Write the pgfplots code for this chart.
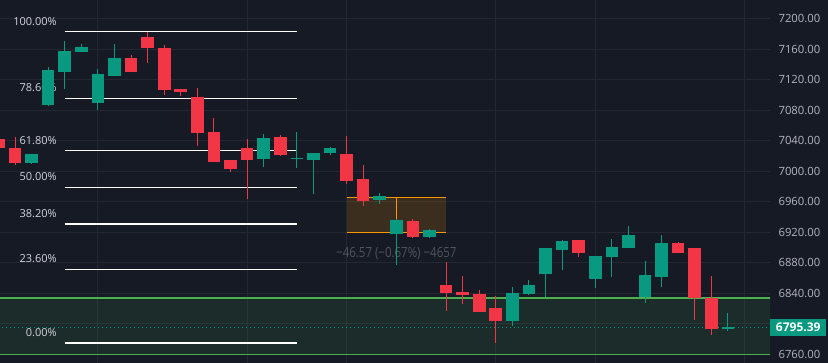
\documentclass[border=0pt]{standalone}
\usepackage{pgfplots}
\pgfplotsset{compat=1.18}
\usepackage{pgfplotstable}
\usepackage{fontspec}
\setmainfont{Open Sans}
\definecolor{bg}{HTML}{161A25}
\definecolor{gridc}{HTML}{232733}
\definecolor{upc}{HTML}{089981}
\definecolor{dnc}{HTML}{F23645}
\definecolor{zoneg}{HTML}{4CAF50}
\definecolor{orng}{HTML}{FF9800}
\definecolor{labc}{HTML}{B2B5BE}
\definecolor{fibt}{HTML}{D1D4DC}
\definecolor{meas}{HTML}{50535E}

\pgfplotstableread{
k o h l c
2 7011.3 7023.3 7009.6 7022.7
3 7086.9 7136.8 7085.6 7132.9
4 7130.2 7171.3 7108.3 7157.8
5 7156.5 7167.0 7156.5 7163.0
6 7090.0 7134.6 7080.4 7127.6
7 7125.0 7167.0 7125.0 7148.6
16 7016.1 7048.9 7005.6 7043.7
18 7016.6 7051.5 7004.3 7018.0
19 7014.8 7024.0 6970.2 7024.0
20 7024.0 7031.9 7021.4 7030.6
23 6962.4 6971.5 6957.1 6967.6
24 6917.8 6937.4 6877.1 6936.1
26 6913.8 6924.3 6912.5 6923.0
31 6803.7 6848.3 6797.1 6840.4
32 6839.1 6857.4 6837.8 6850.9
33 6865.3 6899.4 6835.1 6899.4
34 6896.8 6909.9 6870.5 6908.6
36 6858.8 6888.9 6846.9 6888.9
37 6887.6 6911.2 6861.4 6900.7
38 6899.4 6928.3 6899.4 6916.5
39 6835.1 6882.4 6827.3 6864.0
40 6861.4 6916.5 6848.3 6906.0
44 6793.2 6814.2 6790.6 6795.39
}\uptable

\pgfplotstableread{
k o h l c
0 7042.4 7045.0 7028.0 7030.2
1 7030.6 7045.0 7008.3 7011.3
8 7148.6 7152.5 7130.2 7130.2
9 7176.1 7183.1 7142.4 7161.7
10 7161.7 7165.6 7100.1 7106.6
11 7107.9 7107.9 7098.8 7104.0
12 7097.4 7109.2 7033.2 7050.2
13 7051.5 7069.9 7012.2 7012.2
14 7014.8 7014.8 6999.1 7003.0
15 7030.6 7042.4 6963.7 7014.8
17 7045.0 7047.6 7020.1 7021.4
21 7022.7 7046.3 6983.3 6987.3
22 6989.9 7008.3 6954.5 6961.0
25 6934.8 6937.4 6912.5 6913.8
27 6850.9 6881.0 6816.8 6840.4
28 6841.7 6862.7 6826.0 6837.8
29 6839.1 6844.3 6815.5 6815.5
30 6820.7 6836.5 6774.8 6803.7
35 6909.9 6909.9 6887.6 6892.8
41 6906.0 6907.3 6892.8 6892.8
42 6899.4 6899.4 6805.0 6833.8
43 6833.8 6862.7 6785.3 6793.2
}\dntable

\begin{document}
\begin{tikzpicture}
\fill[bg] (0,0) rectangle (828pt,363pt);
\begin{axis}[
  at={(0,0)}, anchor=south west,
  scale only axis, width=770pt, height=363pt,
  xmin=0.095, xmax=46.54, ymin=6748.6, ymax=7224.7,
  axis line style={draw=none},
  xtick={6,15,21,30,36,45}, xticklabels={},
  ytick={6760,6840,6880,...,7200},
  extra y ticks={6800}, extra y tick labels={},
  extra y tick style={grid=major},
  grid=major,
  major grid style={draw=gridc, line width=1pt},
  tick style={draw=none},
  yticklabel pos=right,
  yticklabel style={anchor=west, xshift=5pt, text=labc, font=\fontsize{11.3}{13}\selectfont},
  /pgf/number format/assume math mode=true,
  y tick label style={/pgf/number format/.cd, fixed, fixed zerofill, precision=2, 1000 sep={}},
]
% green zone
\addplot[fill=zoneg, fill opacity=0.12, draw=none] coordinates {(-1,6760) (48,6760) (48,6833.8) (-1,6833.8)} --cycle;
\addplot[draw=zoneg, line width=1.2pt] coordinates {(-1,6833.8) (48,6833.8)};
\addplot[draw=zoneg, line width=1.2pt] coordinates {(-1,6760) (48,6760)};
% measure box
\addplot[fill=orng, fill opacity=0.16, draw=none] coordinates {(21,6919.8) (27,6919.8) (27,6966.1) (21,6966.1)} --cycle;
\addplot[draw=orng, line width=1.2pt] coordinates {(21,6966.1) (27,6966.1)};
\addplot[draw=orng, line width=1.2pt] coordinates {(21,6919.8) (27,6919.8)};
\addplot[draw=orng, line width=1.2pt] coordinates {(24,6919.8) (24,6966.1)};
\node[text=meas, font=\fontsize{14}{16}\selectfont] at (axis cs:24,6891.9) {\scalebox{0.82}[1]{−46.57 (−0.67\%) −4657}};
% fib levels
\addplot[draw=white, line width=1.3pt] coordinates {(4,7183.1) (18,7183.1)};
\addplot[draw=white, line width=1.3pt] coordinates {(4,7095.7) (18,7095.7)};
\addplot[draw=white, line width=1.3pt] coordinates {(4,7027.1) (18,7027.1)};
\addplot[draw=white, line width=1.3pt] coordinates {(4,6978.95) (18,6978.95)};
\addplot[draw=white, line width=1.3pt] coordinates {(4,6930.8) (18,6930.8)};
\addplot[draw=white, line width=1.3pt] coordinates {(4,6871.2) (18,6871.2)};
\addplot[draw=white, line width=1.3pt] coordinates {(4,6774.8) (18,6774.8)};
\begin{scope}[every node/.style={anchor=east, text=fibt, font=\fontsize{11}{13}\selectfont, inner sep=0pt, yshift=10.5pt}]
\node at (axis cs:3.53,7183.1) {100.00\%};
\node at (axis cs:3.53,7095.7) {78.60\%};
\node at (axis cs:3.53,7027.1) {61.80\%};
\node at (axis cs:3.53,6978.95) {50.00\%};
\node at (axis cs:3.53,6930.8) {38.20\%};
\node at (axis cs:3.53,6871.2) {23.60\%};
\node at (axis cs:3.53,6774.8) {0.00\%};
\end{scope}
% last price line
\addplot[draw=upc, line width=1pt, dash pattern=on 1.3pt off 2.7pt] coordinates {(-1,6795.39) (48,6795.39)};
% wicks
\addplot[draw=none, error bars/.cd, y dir=plus, y explicit, error mark=none,
  error bar style={draw=upc, line width=1pt}]
  table[x=k, y=l, y error expr={\thisrow{h}-\thisrow{l}}] {\uptable};
\addplot[draw=none, error bars/.cd, y dir=plus, y explicit, error mark=none,
  error bar style={draw=dnc, line width=1pt}]
  table[x=k, y=l, y error expr={\thisrow{h}-\thisrow{l}}] {\dntable};
% bodies
\addplot[draw=none, error bars/.cd, y dir=plus, y explicit, error mark=none,
  error bar style={draw=upc, line width=12.6pt, line cap=butt}]
  table[x=k, y=o, y error expr={\thisrow{c}-\thisrow{o}}] {\uptable};
\addplot[draw=none, error bars/.cd, y dir=plus, y explicit, error mark=none,
  error bar style={draw=dnc, line width=12.6pt, line cap=butt}]
  table[x=k, y=c, y error expr={\thisrow{o}-\thisrow{c}}] {\dntable};
\coordinate (pl) at (axis cs:46.54,6795.39);
\end{axis}
\node[anchor=west, fill=upc, text=white, font=\fontsize{12}{14}\selectfont\bfseries, minimum width=56pt, minimum height=17pt, inner sep=0pt] at (pl) {6795.39};
\pgfresetboundingbox
\useasboundingbox (0,0) rectangle (828pt,363pt);
\end{tikzpicture}
\end{document}
